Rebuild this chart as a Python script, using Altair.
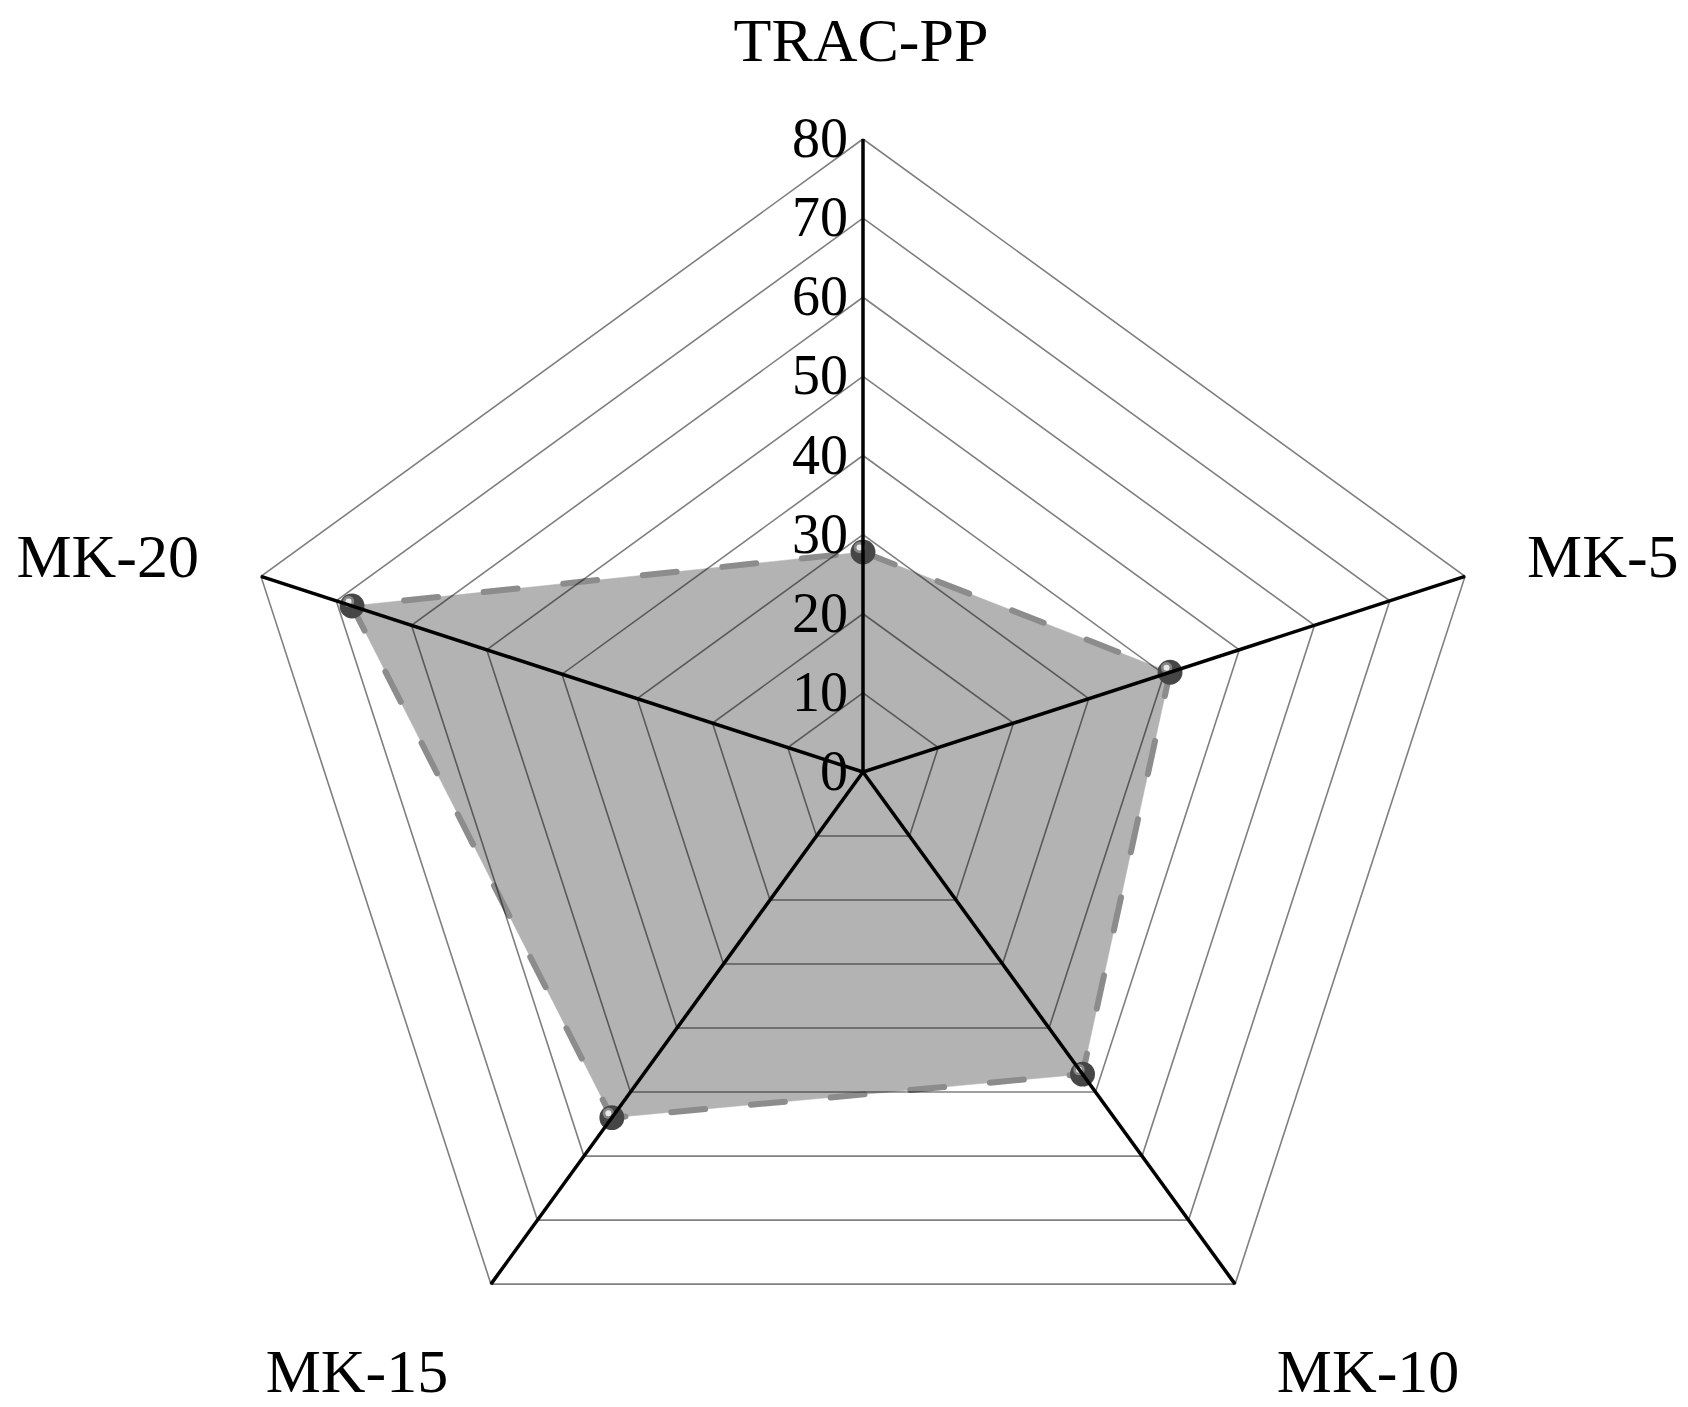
import altair as alt
import pandas as pd

# ---- data ----
CATEGORIES = ["TRAC-PP", "MK-5", "MK-10", "MK-15", "MK-20"]
VALUES = [27.8, 40.8, 47.2, 54.0, 67.9]
LEVELS = [0, 10, 20, 30, 40, 50, 60, 70, 80]
TICK_LABELS = ["0", "10", "20", "30", "40", "50", "60", "70", "80"]
R_MAX = 80
N = len(CATEGORIES)

# ---- layout ----
W, H = 1672, 1385
PPU = 633 / 80.0          # pixels per value unit
CX, CY = 855, 764         # centre in plot-area pixels
XS = alt.Scale(domain=[-CX / PPU, (W - CX) / PPU], nice=False, zero=False)
YS = alt.Scale(domain=[CY / PPU - H / PPU, CY / PPU], nice=False, zero=False)
FONT = "Liberation Serif"

ANG = "datum.idx * 2 * PI / %d" % N

ring_df = pd.DataFrame(
    [{"level": L, "idx": i} for L in LEVELS[1:] for i in range(N + 1)]
)
series_df = pd.DataFrame(
    [{"idx": i, "cat": CATEGORIES[i % N], "value": VALUES[i % N]} for i in range(N + 1)]
)
spoke_df = pd.DataFrame([{"idx": i, "cat": CATEGORIES[i]} for i in range(N)])
tick_df = pd.DataFrame({"level": LEVELS, "label": TICK_LABELS})


def xy(field):
    return dict(
        x=alt.X("px:Q", scale=XS, axis=None),
        y=alt.Y("py:Q", scale=YS, axis=None),
    )


def polar(chart, rexpr):
    return chart.transform_calculate(
        px="(%s) * sin(%s)" % (rexpr, ANG),
        py="(%s) * cos(%s)" % (rexpr, ANG),
    )


# filled polygon
fill = polar(
    alt.Chart(series_df).mark_line(fill="#b3b3b3", stroke="#b3b3b3", strokeWidth=0.5),
    "datum.value",
).encode(order=alt.Order("idx:Q"), **xy(None))

# dashed outline
outline = polar(
    alt.Chart(series_df).mark_line(
        color="#8c8c8c", strokeWidth=6, strokeDash=[34, 46], strokeCap="round"
    ),
    "datum.value",
).encode(order=alt.Order("idx:Q"), **xy(None))

# grid rings
grid = polar(
    alt.Chart(ring_df).mark_line(color="black", opacity=0.5, strokeWidth=1.6),
    "datum.level",
).encode(detail="level:N", order=alt.Order("idx:Q"), **xy(None))

# tick labels
ticks = (
    alt.Chart(tick_df)
    .transform_calculate(px="0", py="datum.level")
    .mark_text(
        align="right", baseline="alphabetic", dx=-15, dy=18,
        font=FONT, fontSize=56, color="black",
    )
    .encode(text="label:N", **xy(None))
)

# spokes
spokes = (
    alt.Chart(spoke_df)
    .transform_calculate(
        px="0", py="0",
        px2="%d * sin(%s)" % (R_MAX, ANG),
        py2="%d * cos(%s)" % (R_MAX, ANG),
    )
    .mark_rule(color="black", strokeWidth=3.5)
    .encode(
        x=alt.X("px:Q", scale=XS, axis=None),
        y=alt.Y("py:Q", scale=YS, axis=None),
        x2="px2:Q",
        y2="py2:Q",
    )
)

pts_base = polar(
    alt.Chart(series_df).transform_filter("datum.idx < %d" % N), "datum.value"
)
pts = pts_base.mark_circle(size=620, color="#464646", opacity=1).encode(**xy(None))
pts_ring = pts_base.mark_circle(
    size=130, color="#858585", opacity=1, xOffset=-3.5, yOffset=-4.5
).encode(**xy(None))
pts_hl = pts_base.mark_circle(
    size=36, color="#e8e8e8", opacity=1, xOffset=-3.5, yOffset=-4.5
).encode(**xy(None))

# category labels (offsets from the outer vertex)
LABEL_STYLE = {
    "TRAC-PP": dict(align="center", dx=-2, dy=-78),
    "MK-5": dict(align="left", dx=62, dy=1),
    "MK-10": dict(align="center", dx=133, dy=108),
    "MK-15": dict(align="center", dx=-134, dy=108),
    "MK-20": dict(align="right", dx=-62, dy=1),
}
label_layers = []
for cat, st in LABEL_STYLE.items():
    label_layers.append(
        polar(
            alt.Chart(spoke_df).transform_filter(alt.datum.cat == cat),
            str(R_MAX),
        )
        .mark_text(baseline="alphabetic", font=FONT, fontSize=62, color="black", **st)
        .encode(text="cat:N", **xy(None))
    )

chart = (
    alt.layer(fill, outline, grid, ticks, pts, pts_ring, pts_hl, spokes, *label_layers)
    .properties(width=W, height=H, padding=0, autosize="none")
    .configure_view(stroke=None)
)

chart.save("out.html", embed_options={"renderer": "svg", "actions": False})
